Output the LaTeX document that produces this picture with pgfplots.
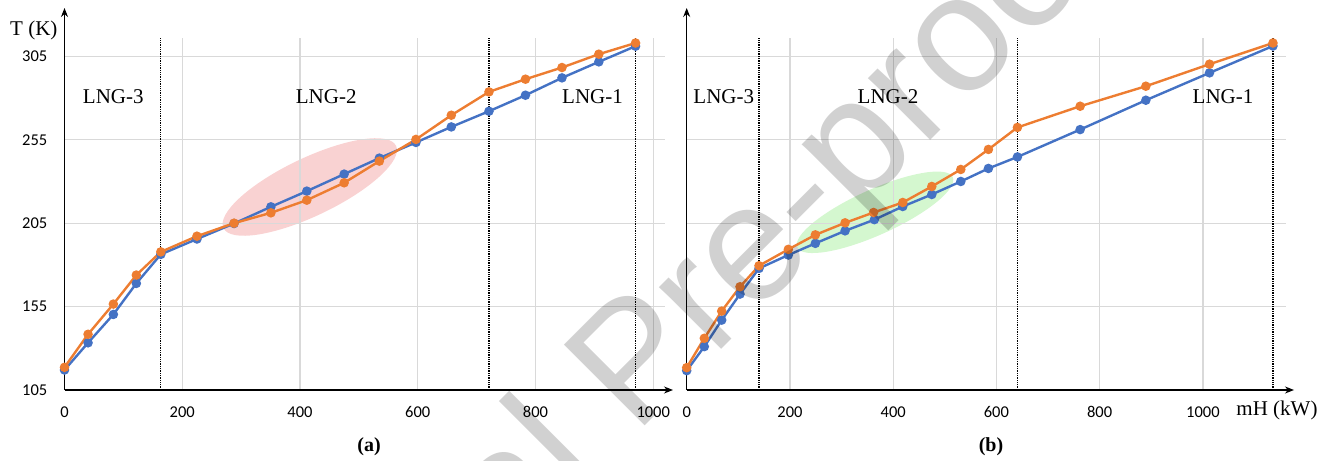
\documentclass[border=0pt]{standalone}
\usepackage{fontspec}
\setmainfont{Liberation Serif}
\newfontfamily\carlito{Carlito}
\newfontfamily\arialf{Liberation Sans}
\usepackage{pgfplots}
\pgfplotsset{compat=1.18}
\usetikzlibrary{arrows.meta}

\definecolor{xblue}{HTML}{4472C4}
\definecolor{xorange}{HTML}{ED7D31}
\definecolor{xgrid}{HTML}{D9D9D9}
\definecolor{xpink}{HTML}{F9D2D2}
\definecolor{xgreen}{HTML}{D4F7CF}

\pgfplotsset{
  panel/.style={
    scale only axis, height=352bp,
    ymin=105, ymax=316, xmin=0,
    axis x line*=bottom, axis y line*=left,
    x axis line style={-{Stealth[length=9bp,width=7bp]}, shorten >=-8bp, line width=1.2bp},
    y axis line style={-{Stealth[length=9bp,width=7bp]}, shorten >=-30bp, line width=1.2bp},
    ytick={105,155,205,255,305},
    xtick={0,200,400,600,800,1000},
    grid=major, major grid style={xgrid, line width=1.2bp},
    major tick length=0pt,
    tick label style={font=\carlito\fontsize{16.5bp}{16.5bp}\selectfont},
    /pgf/number format/assume math mode=true,
    /pgf/number format/set thousands separator={},
    xticklabel style={anchor=north, inner sep=0pt, yshift=-16.5bp},
    yticklabel style={anchor=east, inner sep=0pt, xshift=-17bp},
    clip=false,
  },
  bl/.style={color=xblue, line width=2.4bp, mark=*, mark size=3.5bp, mark options={solid}},
  or/.style={color=xorange, line width=2.4bp, mark=*, mark size=3.5bp, mark options={solid}},
  dl/.style={black, densely dotted, line width=1.3bp, mark=none, forget plot},
}

\begin{document}
\begin{tikzpicture}
\useasboundingbox (0,0) rectangle (1338bp,461bp);

% highlight ellipses
\fill[xpink, rotate around={25.5:(309.8bp,274bp)}] (309.8bp,274bp) ellipse [x radius=95.6bp, y radius=29bp];
\fill[xgreen, rotate around={24.3:(875bp,248.7bp)}] (875bp,248.7bp) ellipse [x radius=85.3bp, y radius=22.7bp];

% ---------------- (a) ----------------
\begin{axis}[panel, width=600.5bp, xmax=1020, at={(64.5bp,71bp)}, anchor=south west]
\addplot[dl] coordinates {(163.6,105) (163.6,316)};
\addplot[dl] coordinates {(721,105) (721,316)};
\addplot[dl] coordinates {(970,105) (970,316)};
\addplot[bl] coordinates {
(0,117.0) (40,133.3) (83,150.3) (122,168.9) (163.6,186.3) (225,195.5)
(288,204.8) (350.6,214.8) (411.6,224.2) (475,234.4) (534.8,244.0)
(597,253.4) (657,262.7) (721,272.1) (783,281.7) (845,292.1)
(907.6,301.7) (970,311.1)};
\addplot[or] coordinates {
(0,118.6) (40,138.4) (83,156.5) (122,173.9) (163.6,187.8) (225,197.2)
(288,205.0) (350.6,211.2) (411.6,218.8) (475,229.2) (534.8,242.2)
(597,255.2) (657,269.7) (721,283.7) (783,291.3) (845,298.3)
(907.6,306.3) (970,313.0)};
\end{axis}

% ---------------- (b) ----------------
\begin{axis}[panel, width=599.3bp, xmax=1161, at={(686.7bp,71bp)}, anchor=south west, yticklabels={}]
\addplot[dl] coordinates {(140.1,105) (140.1,316)};
\addplot[dl] coordinates {(640.7,105) (640.7,316)};
\addplot[dl] coordinates {(1135.7,105) (1135.7,316)};
\addplot[bl] coordinates {
(0,116.6) (34.1,131.0) (67.8,146.9) (103.3,162.5) (140.1,177.9)
(196.9,185.9) (249.2,192.9) (306.8,200.4) (363.6,207.1) (418.6,215.0)
(474.8,222.2) (531.0,230.0) (584.5,237.8) (640.7,244.7) (762.2,261.1)
(889.5,278.7) (1012.8,295.1) (1135.7,311.2)};
\addplot[or] coordinates {
(0,118.4) (34.1,136.0) (67.8,152.3) (103.3,166.9) (140.1,179.5)
(196.9,189.3) (249.2,198.0) (306.8,205.2) (362,211.4) (418.6,217.4)
(474.8,227.0) (531.0,237.2) (584.5,249.2) (640.7,262.4) (762.2,275.1)
(889.5,287.1) (1012.8,300.3) (1135.7,313.0)};
\end{axis}

% ---------------- texts ----------------
\begin{scope}[every node/.style={inner sep=0pt, font=\fontsize{21bp}{21bp}\selectfont}]
\node[anchor=base] at (33.8bp,425bp) {T (K)};
\node[anchor=base] at (113.3bp,357.5bp) {LNG-3};
\node[anchor=base] at (326.2bp,357.5bp) {LNG-2};
\node[anchor=base] at (592.5bp,357.5bp) {LNG-1};
\node[anchor=base] at (723.8bp,357.5bp) {LNG-3};
\node[anchor=base] at (888bp,357.5bp) {LNG-2};
\node[anchor=base] at (1223bp,357.5bp) {LNG-1};
\node[anchor=base] at (1277bp,45.2bp) {mH (kW)};
\node[anchor=base, font=\fontsize{20bp}{20bp}\selectfont\bfseries] at (369bp,9.6bp) {(a)};
\node[anchor=base, font=\fontsize{20bp}{20bp}\selectfont\bfseries] at (991bp,9.6bp) {(b)};
\end{scope}

% watermark (visible part of "Journal Pre-proof")
\node[rotate=45, anchor=base west, inner sep=0pt, text=black, text opacity=0.18,
      font=\arialf\fontsize{166bp}{166bp}\selectfont] at (635bp,25bp) {Pre-proo};
\node[rotate=45, anchor=base east, inner sep=0pt, text=black, text opacity=0.18,
      font=\arialf\fontsize{166bp}{166bp}\selectfont] at (602.4bp,-7.6bp) {al};
\end{tikzpicture}
\end{document}
